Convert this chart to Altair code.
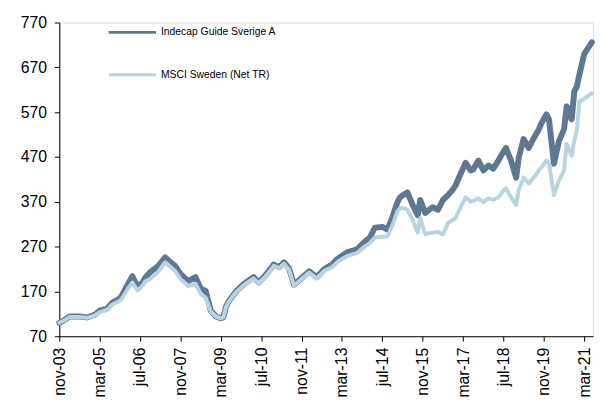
import altair as alt
import pandas as pd

dates = ["2003-11","2004-01","2004-03","2004-07","2004-10","2005-01","2005-03","2005-06","2005-08","2005-11",
         "2005-12","2006-02","2006-04","2006-06","2006-08","2006-09","2006-11","2007-02","2007-05","2007-07",
         "2007-09","2007-11","2008-02","2008-05","2008-07","2008-09","2008-11","2009-01","2009-03","2009-04",
         "2009-05","2009-06","2009-09","2009-12","2010-04","2010-06","2010-09","2010-12","2011-02","2011-04",
         "2011-06","2011-08","2011-09","2011-11","2012-02","2012-05","2012-08","2012-11","2013-01","2013-05",
         "2013-09","2013-12","2014-02","2014-04","2014-07","2014-09","2014-11","2015-01","2015-02","2015-04",
         "2015-05","2015-07","2015-09","2015-10","2015-12","2016-01","2016-03","2016-05","2016-07","2016-09",
         "2016-11","2016-12","2017-02","2017-04","2017-06","2017-07","2017-09","2017-11","2018-01","2018-03",
         "2018-05","2018-07","2018-08","2018-10","2018-12","2019-01","2019-03","2019-05","2019-07","2019-09",
         "2019-10","2019-12","2020-01","2020-03","2020-05","2020-07","2020-08","2020-10","2020-11","2020-12",
         "2021-01","2021-03","2021-06"]

indecap = [100,106,114,114,112,118,127,132,145,154,
           163,185,204,180,190,200,213,226,246,236,
           226,209,193,202,176,171,127,114,110,112,
           135,147,170,186,202,190,208,230,224,235,
           222,185,190,200,215,202,220,230,242,257,
           264,281,290,312,314,308,336,370,380,388,
           391,363,340,374,345,350,358,352,374,385,
           398,407,433,457,440,442,462,440,451,444,
           462,482,490,462,424,468,510,490,512,532,
           545,565,554,455,506,532,583,554,616,627,
           653,700,726]

msci = [100,105,113,113,111,116,124,129,141,149,
        156,175,190,172,183,192,198,213,235,225,
        215,198,182,187,165,156,125,114,110,112,
        134,146,168,184,199,188,205,227,222,232,
        219,183,188,198,212,199,216,224,235,249,
        256,270,278,290,292,293,318,350,356,355,
        352,330,301,334,297,300,301,303,297,323,
        330,334,358,380,370,372,378,369,378,374,
        380,395,400,380,363,396,424,411,424,440,
        446,462,455,385,418,440,499,473,506,528,
        594,600,612]

series_names = ["Indecap Guide Sverige A", "MSCI Sweden (Net TR)"]
series_colors = ["#5f7891", "#b9d4e1"]

tick_dates = ["2003-11","2005-03","2006-07","2007-11","2009-03","2010-07","2011-11",
              "2013-03","2014-07","2015-11","2017-03","2018-07","2019-11","2021-03"]
y_ticks = [70,170,270,370,470,570,670,770]

df_a = pd.DataFrame({"date": [d + "-01" for d in dates], "value": indecap, "series": series_names[0]})
df_b = pd.DataFrame({"date": [d + "-01" for d in dates], "value": msci, "series": series_names[1]})

tick_vals = [alt.DateTime(year=int(t[:4]), month=int(t[5:7]), date=1, utc=True) for t in tick_dates]

FONT = "Liberation Sans"

x_enc = alt.X("date:T", scale=alt.Scale(type="utc", domain=[alt.DateTime(year=2003, month=11, date=1, utc=True),
                                                           alt.DateTime(year=2021, month=6, date=15, utc=True)], nice=False),
              axis=alt.Axis(values=tick_vals, labelExpr="lower(utcFormat(datum.value, '%b-%y'))",
                            labelAngle=270, labelAlign="right", labelBaseline="middle",
                            labelPadding=6, tickSize=5, grid=False, title=None,
                            domainColor="black", tickColor="black", labelColor="black",
                            labelFontSize=16, labelFont=FONT))
y_enc = alt.Y("value:Q", scale=alt.Scale(domain=[70, 770], nice=False, zero=False),
              axis=alt.Axis(values=y_ticks, tickSize=5, grid=False, title=None, labelPadding=8,
                            domainColor="black", tickColor="black", labelColor="black",
                            labelFontSize=16, labelFont=FONT))

line_a = alt.Chart(df_a).mark_line(strokeWidth=6, strokeJoin="round", strokeCap="round",
                                   color=series_colors[0]).encode(x=x_enc, y=y_enc)
line_b = alt.Chart(df_b).mark_line(strokeWidth=4, strokeJoin="round", strokeCap="round",
                                   color=series_colors[1]).encode(x=x_enc, y=y_enc)

# legend (manual, inside plot top-left)
leg_a_line = alt.Chart(df_a.head(1)).mark_rule(strokeWidth=3, color=series_colors[0]).encode(
    x=alt.value(50), x2=alt.value(98), y=alt.value(10))
leg_b_line = alt.Chart(df_b.head(1)).mark_rule(strokeWidth=3, color=series_colors[1]).encode(
    x=alt.value(50), x2=alt.value(98), y=alt.value(53))
leg_a_text = alt.Chart(df_a.head(1)).mark_text(align="left", baseline="middle", fontSize=10.5, font=FONT,
                                               color="black").encode(
    x=alt.value(103), y=alt.value(10), text=alt.value(series_names[0]))
leg_b_text = alt.Chart(df_b.head(1)).mark_text(align="left", baseline="middle", fontSize=10.5, font=FONT,
                                               color="black").encode(
    x=alt.value(103), y=alt.value(53), text=alt.value(series_names[1]))

chart = alt.layer(line_a, line_b, leg_a_line, leg_b_line, leg_a_text, leg_b_text).properties(
    width=541, height=318,
    autosize=alt.AutoSizeParams(type="none"),
    padding={"left": 52, "top": 12, "right": 2, "bottom": 70},
).configure_view(stroke=None).configure(background="white")

chart.save("out.html", embed_options={"renderer": "svg", "actions": False})
